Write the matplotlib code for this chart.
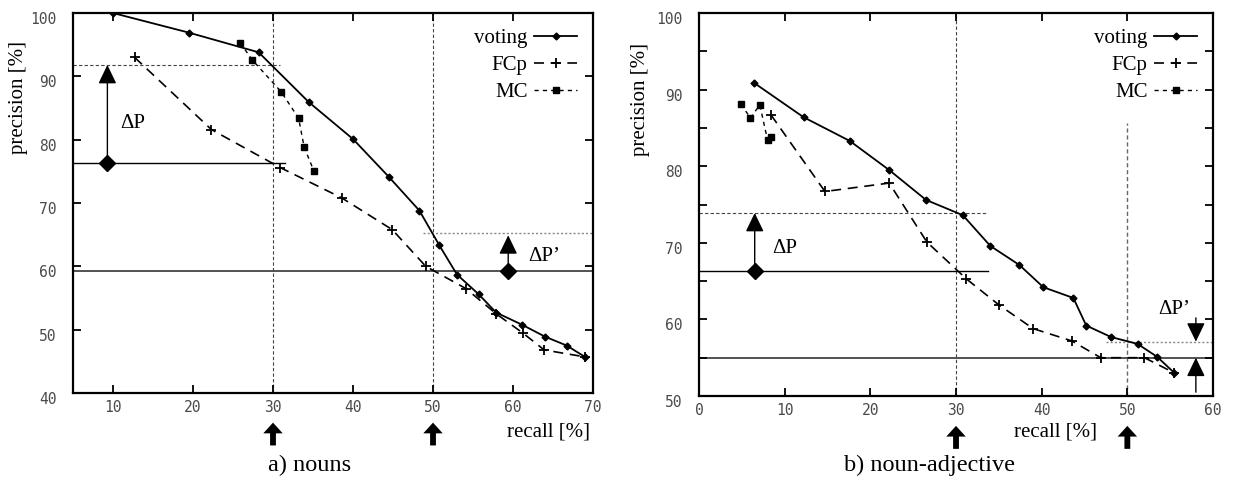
import matplotlib
matplotlib.use('Agg')
import matplotlib.pyplot as plt
from matplotlib.transforms import ScaledTranslation, blended_transform_factory
from matplotlib.ticker import MultipleLocator

# ---------------- data: a) nouns ----------------
a_voting_recall = [10, 19.5, 28.2, 34.5, 40, 44.5, 48.3, 50.8, 53.0, 55.7, 57.9, 61.1, 64.0, 66.7, 69.0]
a_voting_prec = [100, 96.9, 93.8, 85.9, 80.1, 74.1, 68.8, 63.3, 58.7, 55.6, 52.7, 50.8, 48.9, 47.5, 45.7]
a_fcp_recall = [12.7, 22.3, 30.9, 38.6, 44.9, 49.1, 54.1, 57.9, 61.2, 63.9, 69.0]
a_fcp_prec = [93.0, 81.6, 75.6, 70.8, 65.8, 60.0, 56.5, 52.5, 49.5, 46.8, 45.7]
a_mc_recall = [25.9, 27.4, 31.0, 33.2, 33.9, 35.1]
a_mc_prec = [95.3, 92.6, 87.6, 83.4, 78.8, 75.1]

# ---------------- data: b) noun-adjective ----------------
b_voting_recall = [6.4, 12.2, 17.6, 22.2, 26.5, 30.8, 34.0, 37.4, 40.2, 43.7, 45.2, 48.1, 51.2, 53.5, 55.5]
b_voting_prec = [90.9, 86.4, 83.3, 79.5, 75.6, 73.6, 69.6, 67.1, 64.2, 62.8, 59.2, 57.7, 56.8, 55.1, 53.0]
b_fcp_recall = [8.4, 14.7, 22.2, 26.6, 31.2, 35.0, 39.0, 43.5, 46.9, 52.0, 55.5]
b_fcp_prec = [86.7, 76.7, 77.8, 70.1, 65.3, 61.9, 58.8, 57.2, 55.0, 55.0, 53.0]
b_mc_recall = [4.9, 6.0, 7.1, 8.0, 8.4]
b_mc_prec = [88.1, 86.3, 88.0, 83.4, 83.8]

series_labels = ['voting', 'FCp', 'MC']
threshold_recalls = [30, 50]

# annotation levels
a_dp_low, a_dp_high, a_dp_x = 76.3, 91.8, 9.3
a_dpp_low, a_dpp_high, a_dpp_x = 59.2, 65.2, 59.4
b_dp_low, b_dp_high, b_dp_x = 66.3, 73.9, 6.5
b_dpp_low, b_dpp_high, b_dpp_x = 55.0, 57.1, 58.0

serif = 'Liberation Serif'
mono = 'DejaVu Sans Mono'

fig = plt.figure(figsize=(12.37, 4.84), dpi=100)
ax1 = fig.add_axes([0.0590, 0.1880, 0.4204, 0.7851])
ax2 = fig.add_axes([0.5651, 0.1818, 0.4155, 0.7913])


def style_axes(ax, xlim, ylim, xmajor, ymajor, yminor=None):
    ax.set_xlim(*xlim)
    ax.set_ylim(*ylim)
    ax.xaxis.set_major_locator(MultipleLocator(xmajor))
    ax.yaxis.set_major_locator(MultipleLocator(ymajor))
    if yminor:
        ax.yaxis.set_minor_locator(MultipleLocator(yminor))
        ax.tick_params(axis='y', which='minor', direction='in', length=6, width=1.3,
                       left=True, right=True)
    ax.tick_params(which='major', direction='in', length=6, width=1.3,
                   top=True, right=True, labelsize=10.5, labelcolor='#4a4a4a',
                   pad=5)
    ax.tick_params(axis='y', pad=12)
    for lab in ax.get_xticklabels() + ax.get_yticklabels():
        lab.set_family(mono)
    off = ScaledTranslation(0, -0.05, fig.dpi_scale_trans)
    for lab in ax.get_yticklabels():
        lab.set_transform(lab.get_transform() + off)
    for s in ax.spines.values():
        s.set_linewidth(1.6)


def plot_series(ax, vr, vp, fr, fp, mr, mp):
    ax.plot(vr, vp, color='black', lw=1.3, marker='D', ms=3.5, label=series_labels[0], zorder=5)
    ax.plot(fr, fp, color='black', lw=1.2, ls=(0, (6, 4)), marker='+', ms=7, mew=1.3,
            label=series_labels[1], zorder=4)
    ax.plot(mr, mp, color='black', lw=1.0, ls=(0, (3, 3)), marker='s', ms=4,
            label=series_labels[2], zorder=4)
    ax.legend(loc='upper right', frameon=False, markerfirst=False,
              prop={'family': serif, 'size': 15}, handlelength=2.1,
              labelspacing=0.36, handletextpad=0.3, borderaxespad=0.35)


def dp_arrow(ax, x, y0, y1):
    ax.annotate('', xy=(x, y1), xytext=(x, y0),
                arrowprops=dict(arrowstyle='-|>,head_length=0.58,head_width=0.28',
                                mutation_scale=20, lw=1.0, color='black',
                                shrinkA=0, shrinkB=0), zorder=6)


def bottom_arrows(ax):
    tr = blended_transform_factory(ax.transData, ax.transAxes)
    for xr in threshold_recalls:
        ax.annotate('', xy=(xr, -0.078), xytext=(xr, -0.138), xycoords=tr, textcoords=tr,
                    arrowprops=dict(arrowstyle='simple,head_length=0.55,head_width=1.0,tail_width=0.3',
                                    mutation_scale=14, color='black', lw=0,
                                    shrinkA=0, shrinkB=0),
                    annotation_clip=False)


# ---------------- panel a ----------------
style_axes(ax1, (5, 70), (40, 100), 10, 10)
plot_series(ax1, a_voting_recall, a_voting_prec, a_fcp_recall, a_fcp_prec, a_mc_recall, a_mc_prec)
for xr in threshold_recalls:
    ax1.axvline(xr, color='#444444', lw=0.8, ls=(0, (3, 2)), zorder=1)
ax1.plot([5, 30.9], [a_dp_high] * 2, color='#444444', lw=0.8, ls=(0, (3, 2)), zorder=1)
ax1.plot([5, 31.5], [a_dp_low] * 2, color='black', lw=1.0, zorder=1)
ax1.axhline(a_dpp_low, color='#444444', lw=1.3, zorder=1)
ax1.plot([48.7, 70], [a_dpp_high] * 2, color='#888888', lw=1.0, ls=(0, (1.5, 1.5)), zorder=1)
dp_arrow(ax1, a_dp_x, a_dp_low, a_dp_high)
ax1.plot([a_dp_x], [a_dp_low], marker='D', ms=8, color='black', zorder=7)
dp_arrow(ax1, a_dpp_x, a_dpp_low, a_dpp_high - 0.3)
ax1.plot([a_dpp_x], [a_dpp_low], marker='D', ms=8, color='black', zorder=7)
ax1.text(10.9, 82.6, 'ΔP', family=serif, size=15, va='center', ha='left')
ax1.text(61.9, 61.6, 'ΔP’', family=serif, size=15, va='center', ha='left')
bottom_arrows(ax1)

# ---------------- panel b ----------------
style_axes(ax2, (0, 60), (50, 100), 10, 10, 5)
plot_series(ax2, b_voting_recall, b_voting_prec, b_fcp_recall, b_fcp_prec, b_mc_recall, b_mc_prec)
ax2.axvline(threshold_recalls[0], color='#444444', lw=0.8, ls=(0, (3, 2)), zorder=1)
ax2.plot([threshold_recalls[1]] * 2, [50, 85.6], color='#666666', lw=1.0, ls=(0, (3, 2)), zorder=1)
ax2.plot([0, 33.6], [b_dp_high] * 2, color='#444444', lw=0.8, ls=(0, (3, 2)), zorder=1)
ax2.plot([0, 33.7], [b_dp_low] * 2, color='black', lw=1.0, zorder=1)
ax2.axhline(b_dpp_low, color='#444444', lw=1.3, zorder=1)
ax2.plot([47.5, 60], [b_dpp_high] * 2, color='#888888', lw=1.0, ls=(0, (1.5, 1.5)), zorder=1)
dp_arrow(ax2, b_dp_x, b_dp_low, b_dp_high)
ax2.plot([b_dp_x], [b_dp_low], marker='D', ms=8, color='black', zorder=7)
dp_arrow(ax2, b_dpp_x, 60.2, b_dpp_high)
dp_arrow(ax2, b_dpp_x, 50.5, b_dpp_low)
ax2.text(8.6, 69.3, 'ΔP', family=serif, size=15, va='center', ha='left')
ax2.text(55.5, 61.3, 'ΔP’', family=serif, size=15, va='center', ha='center')
bottom_arrows(ax2)

# ---------------- labels ----------------
fig.text(19 / 1237, 1 - 98 / 484, 'precision [%]', rotation=90, family=serif, size=15,
         ha='center', va='center')
fig.text(641 / 1237, 1 - 99 / 484, 'precision [%]', rotation=90, family=serif, size=15,
         ha='center', va='center')
fig.text(590 / 1237, 1 - 432 / 484, 'recall [%]', family=serif, size=15, ha='right', va='center')
fig.text(1056 / 1237, 1 - 432 / 484, 'recall [%]', family=serif, size=15, ha='center', va='center')
fig.text(310 / 1237, 1 - 465 / 484, 'a) nouns', family=serif, size=17.5, ha='center', va='center')
fig.text(929 / 1237, 1 - 465 / 484, 'b) noun-adjective', family=serif, size=17.5, ha='center', va='center')

fig.savefig('out.png', dpi=100)
